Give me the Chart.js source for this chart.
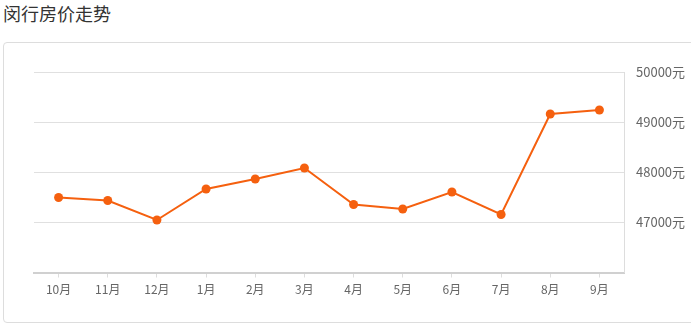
<!DOCTYPE html>
<html>
<head>
<meta charset="utf-8">
<script src="https://cdn.jsdelivr.net/npm/chart.js@4/dist/chart.umd.min.js"></script>
<style>
  html, body { margin: 0; padding: 0; background: #fff; overflow: hidden; }
  body { width: 691px; height: 326px; position: relative; font-family: "Noto Sans CJK SC", sans-serif; }
  .title { position: absolute; left: 3px; top: 0; font-size: 18px; line-height: 26px; color: #333; }
  .box { position: absolute; left: 3px; top: 42px; width: 700px; height: 279px; border: 1px solid #ddd; border-radius: 4px; }
  #chart { position: absolute; left: 0; top: 0; }
</style>
</head>
<body>
<div class="title">闵行房价走势</div>
<div class="box"></div>
<canvas id="chart" width="691" height="326"></canvas>
<script>
const months = ['10月', '11月', '12月', '1月', '2月', '3月', '4月', '5月', '6月', '7月', '8月', '9月'];
const prices = [47500, 47440, 47050, 47670, 47870, 48090, 47360, 47270, 47610, 47160, 49170, 49250];
const yMin = 46000;
const yMax = 50000;
const yStep = 1000;

const orange = '#f5600f';

new Chart(document.getElementById('chart'), {
  type: 'line',
  data: {
    labels: months,
    datasets: [{
      data: prices,
      borderColor: orange,
      backgroundColor: orange,
      borderWidth: 2,
      pointRadius: 4.5,
      pointBackgroundColor: orange,
      pointBorderWidth: 0,
      tension: 0,
      fill: false
    }]
  },
  options: {
    responsive: false,
    animation: false,
    layout: { padding: { left: 34, top: 72.5, right: 0, bottom: 0 } },
    plugins: { legend: { display: false }, tooltip: { enabled: false } },
    scales: {
      x: {
        offset: true,
        grid: { drawOnChartArea: false, drawTicks: true, tickLength: 5, color: '#ddd' },
        border: { color: '#d0d0d0', width: 2 },
        ticks: { color: '#666', padding: 5, font: { family: 'Noto Sans CJK SC', size: 12 } },
        afterFit: (s) => { s.height = 53.5; }
      },
      y: {
        position: 'right',
        min: yMin,
        max: yMax,
        grid: { color: '#e0e0e0', drawTicks: false },
        border: { color: '#ddd', width: 1 },
        ticks: {
          stepSize: yStep,
          padding: 12,
          color: '#666',
          font: { family: 'Noto Sans CJK SC', size: 13 },
          callback: (v) => v === yMin ? '' : v + '元'
        },
        afterFit: (s) => { s.width = 67; }
      }
    }
  }
});
</script>
</body>
</html>
